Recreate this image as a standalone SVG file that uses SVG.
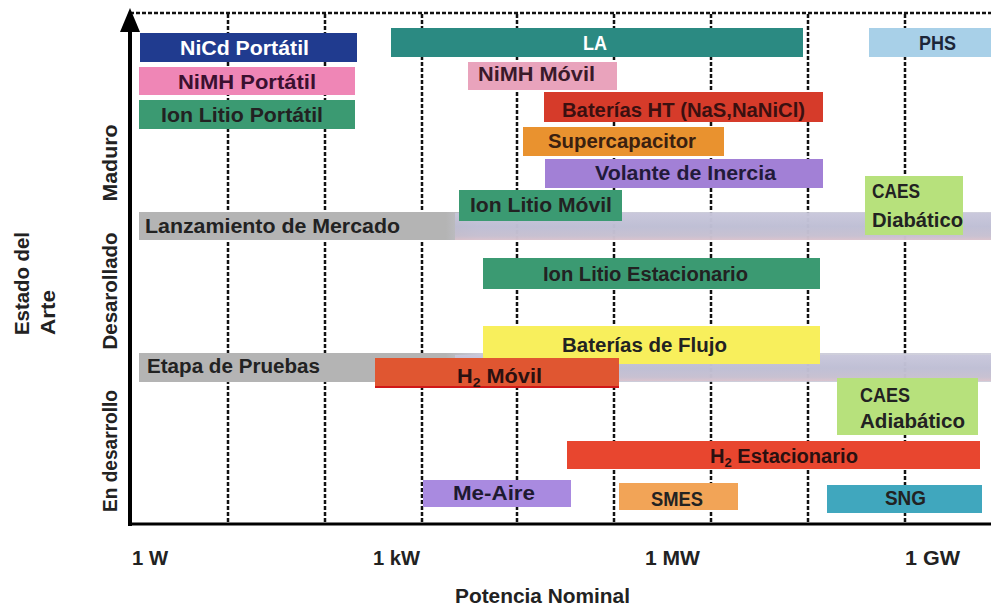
<svg xmlns="http://www.w3.org/2000/svg" width="991" height="611" viewBox="0 0 991 611">
<defs>
<style>
.t{font-family:"Liberation Sans",Arial,sans-serif;font-weight:bold;font-size:20px;fill:#222;}
.w{fill:#fff;}
.grid{stroke:#111;stroke-width:2.5;stroke-dasharray:4 2;fill:none;}
.sub{font-size:13px;}
</style>
<linearGradient id="bandFade" x1="0" y1="0" x2="0" y2="1">
<stop offset="0" stop-color="#c9c7dc"/>
<stop offset="0.5" stop-color="#bdbdd4"/>
<stop offset="0.85" stop-color="#c7bfd0"/>
<stop offset="1" stop-color="#dcc2cc"/>
</linearGradient>
<linearGradient id="bandH" x1="0" y1="0" x2="1" y2="0">
<stop offset="0" stop-color="#b4b4b4"/>
<stop offset="0.36" stop-color="#b4b4b4"/>
<stop offset="0.4" stop-color="#c4c4d4" stop-opacity="0.9"/>
<stop offset="1" stop-color="#c8c8d6" stop-opacity="0.85"/>
</linearGradient>
</defs>
<rect width="991" height="611" fill="#fff"/>

<g id="grid">
<line class="grid" x1="130" y1="13" x2="991" y2="13"/>
<line class="grid" x1="228" y1="14" x2="228" y2="524"/>
<line class="grid" x1="325" y1="14" x2="325" y2="524"/>
<line class="grid" x1="422" y1="14" x2="422" y2="524"/>
<line class="grid" x1="517" y1="14" x2="517" y2="524"/>
<line class="grid" x1="614" y1="14" x2="614" y2="524"/>
<line class="grid" x1="711" y1="14" x2="711" y2="524"/>
<line class="grid" x1="808" y1="14" x2="808" y2="524"/>
<line class="grid" x1="905" y1="14" x2="905" y2="524"/>
</g>

<g id="band-lanzamiento">
<rect x="139" y="212" width="852" height="28" fill="url(#bandH)"/>
<rect x="455" y="213" width="536" height="27" fill="url(#bandFade)" opacity="0.85"/>
<text class="t" x="145" y="233" textLength="255" lengthAdjust="spacingAndGlyphs">Lanzamiento de Mercado</text>
</g>
<g id="band-etapa">
<rect x="139" y="353" width="852" height="29" fill="url(#bandH)"/>
<rect x="455" y="355" width="536" height="26" fill="url(#bandFade)" opacity="0.85"/>
<text class="t" x="147" y="373" textLength="173" lengthAdjust="spacingAndGlyphs">Etapa de Pruebas</text>
</g>

<g id="nicd-portatil">
<rect x="140" y="33" width="217" height="29" fill="#203b8f"/>
<text class="t w" x="180" y="55" textLength="129" lengthAdjust="spacingAndGlyphs">NiCd Portátil</text>
</g>
<g id="nimh-portatil">
<rect x="139" y="67" width="216" height="28" fill="#ef86b6"/>
<text class="t" x="178" y="89" textLength="138" lengthAdjust="spacingAndGlyphs" fill="#3a1030" style="fill:#3a1030">NiMH Portátil</text>
</g>
<g id="ionlitio-portatil">
<rect x="139" y="100" width="216" height="29" fill="#3b9a72"/>
<text class="t" x="161" y="122" textLength="162" lengthAdjust="spacingAndGlyphs">Ion Litio Portátil</text>
</g>
<g id="la">
<rect x="391" y="28" width="412" height="29" fill="#2b8a82"/>
<text class="t w" x="583" y="50" textLength="24" lengthAdjust="spacingAndGlyphs">LA</text>
</g>
<g id="phs">
<rect x="869" y="28" width="122" height="29" fill="#a8d0e8"/>
<text class="t" x="919" y="50" textLength="37" lengthAdjust="spacingAndGlyphs" style="fill:#1c2638">PHS</text>
</g>
<g id="nimh-movil">
<rect x="468" y="62" width="149" height="28" fill="#e9a3bc"/>
<text class="t" x="478" y="81" textLength="117" lengthAdjust="spacingAndGlyphs" style="fill:#3a1a2a">NiMH Móvil</text>
</g>
<g id="baterias-ht">
<rect x="544" y="92" width="279" height="30" fill="#d63b2a"/>
<text class="t" x="562" y="117" textLength="243" lengthAdjust="spacingAndGlyphs" style="fill:#3a1010">Baterías HT (NaS,NaNiCl)</text>
</g>
<g id="supercapacitor">
<rect x="523" y="127" width="201" height="29" fill="#e9922f"/>
<text class="t" x="548" y="148" textLength="148" lengthAdjust="spacingAndGlyphs" style="fill:#3a2010">Supercapacitor</text>
</g>
<g id="volante-inercia">
<rect x="545" y="159" width="278" height="29" fill="#a280d6"/>
<text class="t" x="595" y="180" textLength="181" lengthAdjust="spacingAndGlyphs" style="fill:#221a3a">Volante de Inercia</text>
</g>
<g id="caes-diabatico">
<rect x="865" y="176" width="98" height="59" fill="#b7e17c"/>
<text class="t" x="872" y="198" textLength="48" lengthAdjust="spacingAndGlyphs">CAES</text>
<text class="t" x="872" y="227" textLength="91" lengthAdjust="spacingAndGlyphs">Diabático</text>
</g>
<g id="ionlitio-movil">
<rect x="459" y="190" width="163" height="31" fill="#3b9a72"/>
<text class="t" x="470" y="212" textLength="142" lengthAdjust="spacingAndGlyphs">Ion Litio Móvil</text>
</g>
<g id="ionlitio-estacionario">
<rect x="483" y="258" width="337" height="31" fill="#3b9a72"/>
<text class="t" x="543" y="281" textLength="205" lengthAdjust="spacingAndGlyphs">Ion Litio Estacionario</text>
</g>
<g id="baterias-flujo">
<rect x="483" y="326" width="337" height="38" fill="#f8ef5c"/>
<text class="t" x="562" y="352" textLength="165" lengthAdjust="spacingAndGlyphs">Baterías de Flujo</text>
</g>
<g id="h2-movil">
<rect x="375" y="358" width="244" height="30" fill="#e05631"/>
<rect x="375" y="386" width="244" height="2" fill="#d01818"/>
<text class="t" x="457" y="383" textLength="85" lengthAdjust="spacingAndGlyphs" style="fill:#2a1010">H<tspan class="sub" dy="4">2</tspan><tspan dy="-4"> Móvil</tspan></text>
</g>
<g id="caes-adiabatico">
<rect x="837" y="378" width="141" height="57" fill="#b7e17c"/>
<text class="t" x="860" y="402" textLength="50" lengthAdjust="spacingAndGlyphs">CAES</text>
<text class="t" x="860" y="428" textLength="105" lengthAdjust="spacingAndGlyphs">Adiabático</text>
</g>
<g id="h2-estacionario">
<rect x="567" y="441" width="413" height="28" fill="#e8462f"/>
<text class="t" x="710" y="463" textLength="148" lengthAdjust="spacingAndGlyphs" style="fill:#2a1010">H<tspan class="sub" dy="4">2</tspan><tspan dy="-4"> Estacionario</tspan></text>
</g>
<g id="me-aire">
<rect x="423" y="480" width="148" height="27" fill="#a98ae0"/>
<text class="t" x="453" y="500" textLength="82" lengthAdjust="spacingAndGlyphs" style="fill:#1e1a30">Me-Aire</text>
</g>
<g id="smes">
<rect x="619" y="483" width="119" height="27" fill="#f2a457"/>
<text class="t" x="651" y="506" textLength="52" lengthAdjust="spacingAndGlyphs">SMES</text>
</g>
<g id="sng">
<rect x="827" y="485" width="155" height="28" fill="#40a7be"/>
<text class="t" x="885" y="505" textLength="41" lengthAdjust="spacingAndGlyphs">SNG</text>
</g>

<g id="axes">
<line x1="130" y1="526" x2="130" y2="28" stroke="#000" stroke-width="4"/>
<polygon points="130,8 120,32 140,32" fill="#000"/>
<line x1="128" y1="524" x2="991" y2="524" stroke="#000" stroke-width="3"/>
</g>

<g id="axis-labels">
<text class="t" x="132" y="565" textLength="36" lengthAdjust="spacingAndGlyphs">1 W</text>
<text class="t" x="373" y="565" textLength="47" lengthAdjust="spacingAndGlyphs">1 kW</text>
<text class="t" x="645" y="565" textLength="55" lengthAdjust="spacingAndGlyphs">1 MW</text>
<text class="t" x="905" y="565" textLength="55" lengthAdjust="spacingAndGlyphs">1 GW</text>
<text class="t" x="455" y="603" textLength="175" lengthAdjust="spacingAndGlyphs">Potencia Nominal</text>
<text class="t" transform="translate(117,163) rotate(-90)" text-anchor="middle" textLength="77" lengthAdjust="spacingAndGlyphs">Maduro</text>
<text class="t" transform="translate(117,291) rotate(-90)" text-anchor="middle" textLength="117" lengthAdjust="spacingAndGlyphs">Desarollado</text>
<text class="t" transform="translate(117,451) rotate(-90)" text-anchor="middle" textLength="122" lengthAdjust="spacingAndGlyphs">En desarrollo</text>
<text class="t" transform="translate(29,335) rotate(-90)" textLength="103" lengthAdjust="spacingAndGlyphs">Estado del</text>
<text class="t" transform="translate(55,335) rotate(-90)" textLength="45" lengthAdjust="spacingAndGlyphs">Arte</text>
</g>
</svg>
